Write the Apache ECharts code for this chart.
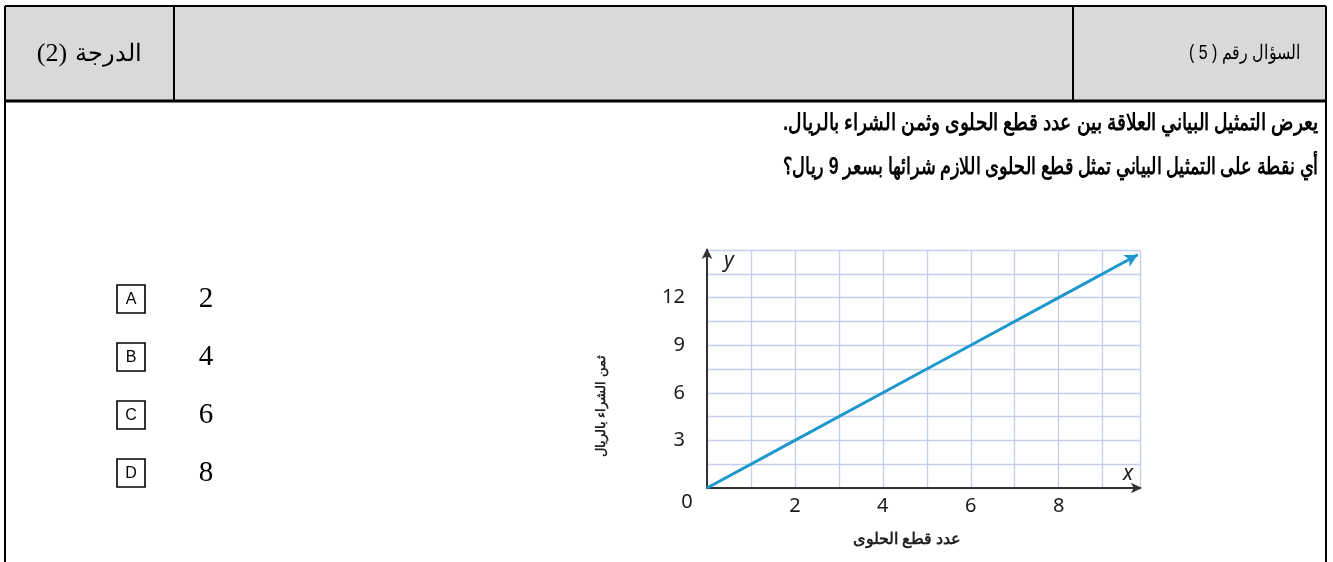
<!DOCTYPE html>
<html>
<head>
<meta charset="utf-8">
<script src="https://cdn.jsdelivr.net/npm/echarts@6/dist/echarts.min.js"></script>
<style>
html,body{margin:0;padding:0;background:#fff;}
#chart{width:1333px;height:562px;}
</style>
</head>
<body>
<div id="chart" dir="rtl"></div>
<script>
// ---- data ----
const pieces = [0, 2, 4, 6, 8, 9.8];          // x: number of candy pieces
const prices = [0, 3, 6, 9, 12, 14.7];        // y: price in riyals
const xTickLabels = [2, 4, 6, 8];
const yTickLabels = [3, 6, 9, 12];
const optionLetters = ['A', 'B', 'C', 'D'];
const optionValues = ['2', '4', '6', '8'];
const headerRight = 'السؤال رقم ( 5 )';
const headerLeftWord = 'الدرجة';
const headerLeftMark = '(2)';
const questionLines = [
  'يعرض التمثيل البياني العلاقة بين عدد قطع الحلوى وثمن الشراء بالريال.',
  'أي نقطة على التمثيل البياني تمثل قطع الحلوى اللازم شرائها بسعر 9 ريال؟'
];
const xAxisTitle = 'عدد قطع الحلوى';
const yAxisTitle = 'ثمن الشراء بالريال';

const chart = echarts.init(document.getElementById('chart'), null, {renderer: 'canvas'});

// text measuring helper (for fitting text runs to the reference widths)
const mctx = document.createElement('canvas').getContext('2d');
mctx.direction = 'rtl';
function textWidth(t, font) { mctx.font = font; return mctx.measureText(t).width; }

const seriesData = pieces.map((x, i) => {
  const item = {value: [x, prices[i]]};
  if (i === pieces.length - 1) {
    item.symbol = 'arrow';
    item.symbolSize = [10, 13];
    item.symbolRotate = -61.6;
    item.itemStyle = {color: '#1d97cd'};
  }
  return item;
});

const graphics = [];
// table header background
graphics.push({type: 'rect', z: 0, shape: {x: 5, y: 6, width: 1321, height: 95}, style: {fill: '#d9d9d9'}});
// table lines
const lines = [
  [5, 6, 1326, 6, 2],
  [5, 101, 1326, 101, 3],
  [5, 6, 5, 562, 2],
  [1326, 6, 1326, 562, 2],
  [174, 6, 174, 101, 2],
  [1073, 6, 1073, 101, 2]
];
lines.forEach(l => graphics.push({type: 'line', z: 5, shape: {x1: l[0], y1: l[1], x2: l[2], y2: l[3]}, style: {stroke: '#000', lineWidth: l[4]}}));
// header texts
graphics.push({type: 'text', z: 6, style: {text: headerLeftWord, x: 142, y: 54, font: '24px "Liberation Sans"', fill: '#000', textAlign: 'right', textVerticalAlign: 'middle'}});
graphics.push({type: 'text', z: 6, style: {text: headerLeftMark, x: 52, y: 54, font: '26px "Liberation Serif"', fill: '#000', textAlign: 'center', textVerticalAlign: 'middle'}});
const hFont = '20px "Liberation Sans"';
graphics.push({type: 'text', z: 6, x: 1301, y: 53, scaleX: 112 / textWidth(headerRight, hFont),
  style: {text: headerRight, x: 0, y: 0, font: hFont, fill: '#000', textAlign: 'right', textVerticalAlign: 'middle'}});
// question lines (fitted to the reference line width)
const qFont = 'bold 23px "Liberation Sans"';
const qWidth = 535;
questionLines.forEach((t, i) => {
  const sx = qWidth / textWidth(t, qFont);
  graphics.push({type: 'text', z: 6, x: 1318, y: 124 + i * 44, scaleX: sx, scaleY: 1,
    style: {text: t, x: 0, y: 0, font: qFont, fill: '#000', textAlign: 'right', textVerticalAlign: 'middle'}});
});
// answer options
optionLetters.forEach((L, i) => {
  const cy = 299 + i * 58;
  graphics.push({type: 'rect', z: 6, shape: {x: 117, y: cy - 14, width: 28, height: 28}, style: {fill: '#fff', stroke: '#000', lineWidth: 1.6}});
  graphics.push({type: 'text', z: 7, style: {text: L, x: 131, y: cy + 1, font: '16px "Liberation Sans"', fill: '#000', textAlign: 'center', textVerticalAlign: 'middle'}});
  graphics.push({type: 'text', z: 7, style: {text: optionValues[i], x: 206, y: cy, font: '29px "Liberation Serif"', fill: '#000', textAlign: 'center', textVerticalAlign: 'middle'}});
});
// chart annotations
graphics.push({type: 'text', z: 6, style: {text: '0', x: 687, y: 502, font: '20px "Noto Sans"', fill: '#1a1a1a', textAlign: 'center', textVerticalAlign: 'middle'}});
graphics.push({type: 'text', z: 6, style: {text: 'y', x: 729, y: 261, font: 'italic 21px "Noto Sans"', fill: '#1a1a1a', textAlign: 'center', textVerticalAlign: 'middle'}});
graphics.push({type: 'text', z: 6, style: {text: 'x', x: 1128, y: 474, font: 'italic 21px "Noto Sans"', fill: '#1a1a1a', textAlign: 'center', textVerticalAlign: 'middle'}});
graphics.push({type: 'text', z: 6, style: {text: xAxisTitle, x: 907, y: 540, font: 'bold 16px "Liberation Sans"', fill: '#222', textAlign: 'center', textVerticalAlign: 'middle'}});
graphics.push({type: 'text', z: 6, x: 601, y: 406, rotation: Math.PI / 2, style: {text: yAxisTitle, x: 0, y: 0, font: 'bold 13px "Liberation Sans"', fill: '#222', textAlign: 'center', textVerticalAlign: 'middle'}});

const option = {
  animation: false,
  backgroundColor: '#fff',
  grid: {left: 707, top: 250, width: 433, height: 238, containLabel: false},
  xAxis: {
    type: 'value', min: 0, max: 9.85, interval: 1,
    axisLine: {show: true, lineStyle: {color: '#333', width: 2}, symbol: ['none', 'arrow'], symbolSize: [8, 11], symbolOffset: [0, 2]},
    axisTick: {show: false},
    axisLabel: {
      margin: 8, fontSize: 20, fontFamily: 'Noto Sans', color: '#1a1a1a',
      formatter: v => xTickLabels.includes(v) ? String(v) : ''
    },
    splitLine: {show: true, lineStyle: {color: '#c6cdec', width: 1.3}}
  },
  yAxis: {
    type: 'value', min: 0, max: 15, interval: 1.5,
    axisLine: {show: true, lineStyle: {color: '#333', width: 2}, symbol: ['none', 'arrow'], symbolSize: [8, 11], symbolOffset: [0, 2]},
    axisTick: {show: false},
    axisLabel: {
      margin: 22, fontSize: 20, fontFamily: 'Noto Sans', color: '#1a1a1a',
      formatter: v => yTickLabels.includes(v) ? String(v) : ''
    },
    splitLine: {show: true, lineStyle: {color: '#c6cdec', width: 1.3}}
  },
  series: [{
    type: 'line',
    data: seriesData,
    symbol: 'none',
    lineStyle: {color: '#1d97cd', width: 3},
    itemStyle: {color: '#1d97cd'},
    z: 3
  }],
  graphic: graphics
};
chart.setOption(option);
</script>
</body>
</html>
